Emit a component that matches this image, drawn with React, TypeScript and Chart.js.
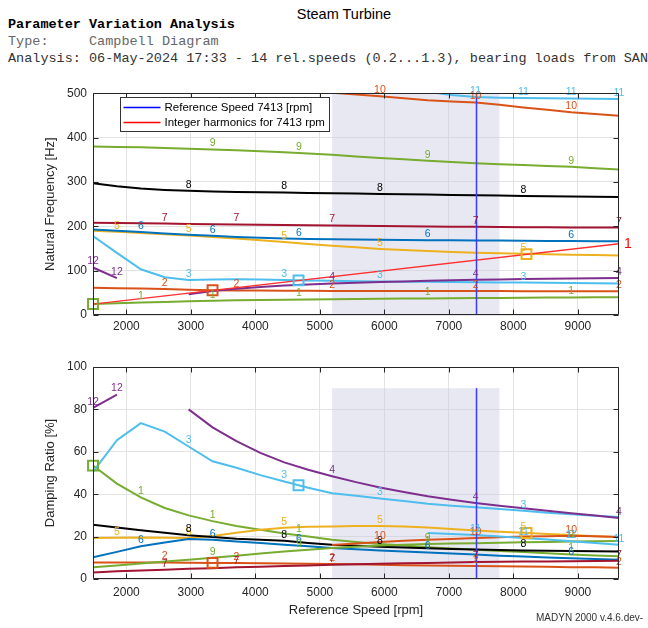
import React, { useEffect, useRef } from "react";
import { Chart, registerables } from "chart.js";

Chart.register(...registerables);

const FONT = "'Liberation Sans', Arial, Helvetica, sans-serif";
const MONO = "'Liberation Mono', 'Courier New', monospace";
const AXIS_COLOR = "#262626";
const GRID_COLOR = "#e3e3e3";
const BAND_COLOR = "rgba(200,200,226,0.42)";
const N = null;

// ---------------- data ----------------
const REF_SPEED = 7413;
const X_MIN = 1482.6;
const X_MAX = 9636.9;
const X_TICKS = [2000, 3000, 4000, 5000, 6000, 7000, 8000, 9000];
const FREQ_TICKS = [0, 100, 200, 300, 400, 500];
const DAMP_TICKS = [0, 20, 40, 60, 80, 100];
const BAND = [5189.1, 7783.7];
const FREQ_BAND_TOP = 500;
const DAMP_BAND_TOP = 90;

const SPEEDS = [1482.6, 1853.3, 2223.9, 2594.6, 2965.2, 3335.9, 3706.5, 4077.2, 4447.8, 4818.5, 5189.1, 5559.8, 5930.4, 6301.1, 6671.7, 7042.4, 7413.0, 7783.7, 8154.3, 8525.0, 8895.6, 9266.3, 9636.9];

const FREQ_1 = [25, 26.5, 28, 29.5, 31, 32, 33, 33.8, 34.5, 35, 35.5, 36, 36.5, 37, 37.4, 37.8, 38.2, 38.6, 39, 39.3, 39.6, 39.8, 40];
const FREQ_2 = [61.5, 60.5, 59.5, 58.5, 57.2, 56, 55.3, 55, 54.7, 54.5, 54.3, 54.2, 54.1, 54, 54, 54, 54, 53.9, 53.8, 53.7, 53.6, 53.5, 53.5];
const FREQ_3 = [178, 140, 103, 85, 79, 80, 80.5, 80, 79, 77.8, 77, 76.3, 75.7, 75.2, 74.8, 74.4, 74, 73.5, 73, 72.5, 72, 71.5, 71];
const FREQ_4 = [N, N, N, N, 47, 54, 59, 63, 66.5, 69, 71, 72.8, 74.3, 75.7, 77, 78.2, 79.3, 80.2, 81, 81.7, 82.3, 82.8, 83.3];
const FREQ_5 = [190, 187.5, 185, 182, 179, 176, 172.5, 168.5, 164.5, 160, 156, 152.5, 149, 146.5, 144, 142, 140.5, 139, 137.8, 136.8, 135.8, 135, 134.3];
const FREQ_6 = [193, 190, 187, 184, 181, 178.5, 176, 174, 172.5, 171.5, 170.5, 170, 169.5, 169, 168.7, 168.4, 168, 167.7, 167.4, 167, 166.7, 166.4, 166];
const FREQ_7 = [208, 207.3, 206.6, 206, 205.3, 204.7, 204, 203.4, 202.8, 202.2, 201.6, 201, 200.5, 200, 199.5, 199.1, 198.7, 198.4, 198, 197.7, 197.4, 197.2, 197];
const FREQ_8 = [297, 290, 285, 282, 280, 278.5, 277.5, 276.8, 276, 275.3, 274.5, 273.8, 273, 272.2, 271.5, 270.7, 270, 269.2, 268.5, 267.8, 267.2, 266.6, 266];
const FREQ_9 = [380, 379, 378, 376.5, 375, 373.3, 371.5, 369.3, 367, 364, 361, 357.5, 354, 351, 348, 345, 342, 340, 338, 336, 334, 331, 328];
const FREQ_10 = [N, N, N, N, N, N, N, N, N, N, 501, 497, 493, 488.5, 484, 481.5, 479, 474, 468, 462.5, 457, 453, 449];
const FREQ_11 = [N, N, N, N, N, N, N, N, N, N, N, N, N, N, 503, 496, 491.5, 490, 489, 488.5, 488, 487.5, 487];
const FREQ_12 = [107, 83, N, N, N, N, N, N, N, N, N, N, N, N, N, N, N, N, N, N, N, N, N];

const DAMP_1 = [53.5, 45, 38.5, 33.5, 30, 27.3, 25, 23.2, 21.5, 20, 18.5, 17.4, 16.5, 15.8, 15, 14.4, 13.8, 13.2, 12.7, 12.2, 11.6, 11.1, 10.7];
const DAMP_2 = [7.8, 7.8, 7.8, 7.8, 7.7, 7.6, 7.5, 7.4, 7.3, 7.2, 7.1, 6.9, 6.7, 6.5, 6.4, 6.2, 6.1, 6, 5.9, 5.8, 5.6, 5.5, 5.3];
const DAMP_3 = [50.5, 65.5, 73.5, 69.5, 62.5, 55.5, 52.5, 49, 46, 43, 40.5, 39.3, 38, 36.8, 35.5, 34.6, 33.8, 33, 32.2, 31.3, 30.5, 29.8, 29.2];
const DAMP_4 = [N, N, N, N, 80, 71.5, 65, 59.5, 55, 51.5, 48.5, 45.7, 43.2, 41, 39, 37.4, 35.9, 34.6, 33.4, 32.2, 31, 29.9, 28.8];
const DAMP_5 = [19.3, 19.5, 19.6, 19.4, 19.3, 20.3, 21.8, 23.2, 24.2, 24.6, 24.8, 25, 25, 24.8, 24.3, 23.6, 22.9, 22.3, 21.8, 21.2, 20.7, 20.2, 19.8];
const DAMP_6 = [10.2, 12.8, 15.4, 17.2, 18.9, 18.5, 17.7, 17, 16.2, 15.5, 14.6, 14, 13.5, 13, 12.5, 12, 11.5, 11, 10.6, 10.2, 9.8, 9.4, 9.1];
const DAMP_7 = [3.1, 3.6, 4, 4.4, 4.8, 5.1, 5.5, 5.8, 6.1, 6.4, 6.7, 7, 7.2, 7.4, 7.6, 7.8, 8, 8.1, 8.2, 8.3, 8.4, 8.5, 8.6];
const DAMP_8 = [25.6, 24.3, 23, 21.8, 20.6, 19.8, 19, 18.5, 18, 17, 16.2, 15.7, 15.2, 14.8, 14.5, 14.2, 13.9, 13.7, 13.5, 13.3, 13.2, 13.1, 13];
const DAMP_9 = [5.5, 6.4, 7.3, 8.2, 9.1, 10, 11, 12, 13, 13.8, 14.6, 15.2, 15.8, 16.2, 16.5, 16.7, 16.9, 17.1, 17.3, 17.5, 17.7, 17.8, 17.9];
const DAMP_10 = [N, N, N, N, N, N, N, N, N, N, 16, 16.8, 17.5, 18, 18.5, 18.9, 19.3, 19.7, 20, 20.2, 20.4, 20.2, 19.8];
const DAMP_11 = [N, N, N, N, N, N, N, N, N, N, N, N, N, N, 21.7, 21.2, 20.7, 20, 19.3, 18.6, 17.8, 17, 16.2];
const DAMP_12 = [80.7, 87, N, N, N, N, N, N, N, N, N, N, N, N, N, N, N, N, N, N, N, N, N];

const LABELS_1 = [2223.9, 3335.9, 4676, 6671.7, 8895.6];
const LABELS_2 = [2594.6, 3706.5, 5189.1, 7413, 9636.9];
const LABELS_3 = [2965.2, 4447.8, 5930.4, 8154.3];
const LABELS_4 = [5189.1, 7413, 9636.9];
const LABELS_5 = [1853.3, 2965.2, 4447.8, 5930.4, 8154.3];
const LABELS_6 = [2223.9, 3335.9, 4676, 6671.7, 8895.6];
const LABELS_7 = [2594.6, 3706.5, 5189.1, 7413, 9636.9];
const LABELS_8 = [2965.2, 4447.8, 5930.4, 8154.3];
const LABELS_9 = [3335.9, 4676, 6671.7, 8895.6];
const LABELS_10 = [5930.4, 7413, 8895.6];
const LABELS_11 = [7413, 8154.3, 8895.6, 9636.9];
const LABELS_12 = [1482.6, 1853.3];

const MODE_NAMES = ["1", "2", "3", "4", "5", "6", "7", "8", "9", "10", "11", "12"];
const MODE_COLORS = ["#77AC30", "#D95319", "#4DBEEE", "#7E2F8E", "#EDB120", "#0072BD", "#A2142F", "#000000", "#77AC30", "#D95319", "#4DBEEE", "#7E2F8E"];
const MODE_FREQ = [FREQ_1, FREQ_2, FREQ_3, FREQ_4, FREQ_5, FREQ_6, FREQ_7, FREQ_8, FREQ_9, FREQ_10, FREQ_11, FREQ_12];
const MODE_DAMP = [DAMP_1, DAMP_2, DAMP_3, DAMP_4, DAMP_5, DAMP_6, DAMP_7, DAMP_8, DAMP_9, DAMP_10, DAMP_11, DAMP_12];
const MODE_LABELS = [LABELS_1, LABELS_2, LABELS_3, LABELS_4, LABELS_5, LABELS_6, LABELS_7, LABELS_8, LABELS_9, LABELS_10, LABELS_11, LABELS_12];

const HARMONIC_SPEEDS = [1482.6, 9636.9];
const HARMONIC_FREQ = [24.7, 160.6];
const HARMONIC_NAME = "1";
const HARMONIC_COLOR = "#ff3030";
const REF_COLOR = "#3a3aff";

const CROSS_SPEEDS = [1482.6, 3335.9, 4669, 8203];
const CROSS_FREQ = [24.8, 55.8, 78, 137.2];
const CROSS_DAMP = [53.5, 7.6, 44.2, 21.7];
const CROSS_MODES = [0, 1, 2, 4];

const LEGEND_LABELS = ["Reference Speed 7413 [rpm]", "Integer harmonics for 7413 rpm"];
const LEGEND_COLORS = ["#0000ff", "#ff0000"];

// ---------------- helpers ----------------
function valueAt(vals: (number | null)[], s: number): number | null {
  for (let i = 0; i < SPEEDS.length; i++) {
    if (Math.abs(SPEEDS[i] - s) < 0.5) return vals[i];
  }
  for (let i = 0; i < SPEEDS.length - 1; i++) {
    if (s > SPEEDS[i] && s < SPEEDS[i + 1]) {
      const a = vals[i], b = vals[i + 1];
      if (a == null || b == null) return a ?? b;
      return a + ((b - a) * (s - SPEEDS[i])) / (SPEEDS[i + 1] - SPEEDS[i]);
    }
  }
  return null;
}

function makeDecor(isF: boolean) {
  return {
    id: isF ? "decorFreq" : "decorDamp",
    beforeDatasetsDraw(chart: any) {
      const { ctx, scales } = chart;
      const x = scales.x, y = scales.y;
      const x0 = x.getPixelForValue(BAND[0]);
      const x1 = x.getPixelForValue(BAND[1]);
      const yt = y.getPixelForValue(isF ? FREQ_BAND_TOP : DAMP_BAND_TOP);
      const yb = y.getPixelForValue(0);
      ctx.save();
      ctx.fillStyle = BAND_COLOR;
      ctx.fillRect(x0, yt, x1 - x0, yb - yt);
      ctx.restore();
    },
    afterDatasetsDraw(chart: any) {
      const { ctx, scales } = chart;
      const x = scales.x, y = scales.y;
      ctx.save();
      // reference speed line
      const rx = Math.round(x.getPixelForValue(REF_SPEED)) + 0.5;
      ctx.strokeStyle = REF_COLOR;
      ctx.lineWidth = 1.5;
      ctx.beginPath();
      ctx.moveTo(rx, y.getPixelForValue(isF ? FREQ_BAND_TOP : DAMP_BAND_TOP));
      ctx.lineTo(rx, y.getPixelForValue(0));
      ctx.stroke();
      // mode labels
      ctx.font = "10.5px " + FONT;
      ctx.textAlign = "center";
      ctx.textBaseline = "middle";
      MODE_NAMES.forEach((name, m) => {
        const vals = isF ? MODE_FREQ[m] : MODE_DAMP[m];
        ctx.fillStyle = MODE_COLORS[m];
        MODE_LABELS[m].forEach((s) => {
          const v = valueAt(vals, s);
          if (v == null) return;
          ctx.fillText(name, x.getPixelForValue(s), y.getPixelForValue(v) - 6);
        });
      });
      if (isF) {
        ctx.font = "14px " + FONT;
        ctx.fillStyle = "#ff0000";
        ctx.textAlign = "left";
        const n = HARMONIC_SPEEDS.length - 1;
        ctx.fillText(HARMONIC_NAME, x.getPixelForValue(HARMONIC_SPEEDS[n]) + 5, y.getPixelForValue(HARMONIC_FREQ[n]));
      }
      ctx.restore();
    },
    afterDraw(chart: any) {
      const { ctx, chartArea: ca, scales } = chart;
      const x = scales.x, y = scales.y;
      const L = Math.round(ca.left) + 0.5, R = Math.round(ca.right) - 0.5;
      const T = Math.round(ca.top) + 0.5, B = Math.round(ca.bottom) - 0.5;
      ctx.save();
      ctx.strokeStyle = AXIS_COLOR;
      ctx.lineWidth = 1;
      ctx.beginPath();
      ctx.rect(L, T, R - L, B - T);
      X_TICKS.forEach((v) => {
        const px = Math.round(x.getPixelForValue(v)) + 0.5;
        ctx.moveTo(px, B); ctx.lineTo(px, B - 5);
        ctx.moveTo(px, T); ctx.lineTo(px, T + 5);
      });
      (isF ? FREQ_TICKS : DAMP_TICKS).forEach((v) => {
        const py = Math.round(y.getPixelForValue(v)) + 0.5;
        ctx.moveTo(L, py); ctx.lineTo(L + 5, py);
        ctx.moveTo(R, py); ctx.lineTo(R - 5, py);
      });
      ctx.stroke();
      if (isF) {
        const lx = Math.round(ca.left + 27) + 0.5;
        const ly = Math.round(ca.top + 3.5) + 0.5;
        const lw = 209, lh = 34;
        ctx.fillStyle = "#ffffff";
        ctx.fillRect(lx, ly, lw, lh);
        ctx.strokeStyle = "#333333";
        ctx.strokeRect(lx, ly, lw, lh);
        ctx.font = "11.5px " + FONT;
        ctx.textAlign = "left";
        ctx.textBaseline = "middle";
        LEGEND_LABELS.forEach((t, i) => {
          const yy = ly + 10 + i * 15;
          ctx.strokeStyle = LEGEND_COLORS[i];
          ctx.lineWidth = 1.5;
          ctx.beginPath();
          ctx.moveTo(lx + 3, yy);
          ctx.lineTo(lx + 40, yy);
          ctx.stroke();
          ctx.fillStyle = "#000000";
          ctx.fillText(t, lx + 44, yy);
        });
      }
      ctx.restore();
    },
  };
}

function makeConfig(isF: boolean): any {
  const modeSets = MODE_NAMES.map((name, m) => ({
    type: "line",
    label: "Mode " + name,
    data: SPEEDS.map((s, i) => ({ x: s, y: (isF ? MODE_FREQ[m] : MODE_DAMP[m])[i] })),
    borderColor: MODE_COLORS[m],
    borderWidth: 2,
    pointRadius: 0,
    tension: 0,
    spanGaps: false,
    fill: false,
  })).reverse();
  const squares = {
    type: "line",
    label: "crossings",
    data: CROSS_SPEEDS.map((s, i) => ({ x: s, y: isF ? CROSS_FREQ[i] : CROSS_DAMP[i] })),
    showLine: false,
    pointStyle: "rect",
    pointRadius: 7,
    pointBorderWidth: 2,
    pointBorderColor: CROSS_MODES.map((m) => MODE_COLORS[m]),
    pointBackgroundColor: "rgba(0,0,0,0)",
    clip: false,
  };
  const harmonic = {
    type: "line",
    label: "harmonic",
    data: HARMONIC_SPEEDS.map((s, i) => ({ x: s, y: HARMONIC_FREQ[i] })),
    borderColor: HARMONIC_COLOR,
    borderWidth: 1.3,
    pointRadius: 0,
  };
  const datasets: any[] = isF ? [squares, harmonic, ...modeSets] : [squares, ...modeSets];
  const yTicks = isF ? FREQ_TICKS : DAMP_TICKS;
  const tickFont = { size: 12, family: FONT };
  return {
    type: "line",
    data: { datasets },
    options: {
      responsive: false,
      maintainAspectRatio: false,
      animation: false,
      events: [],
      layout: { padding: { top: isF ? 13 : 17, right: 29, left: 0, bottom: 0 } },
      plugins: { legend: { display: false }, tooltip: { enabled: false }, title: { display: false } },
      scales: {
        x: {
          type: "linear",
          min: X_MIN,
          max: X_MAX,
          afterBuildTicks: (s: any) => { s.ticks = X_TICKS.map((v) => ({ value: v })); },
          afterFit: (s: any) => { s.height = isF ? 27 : 49; },
          grid: { color: GRID_COLOR, drawTicks: false, lineWidth: 1 },
          border: { display: false },
          ticks: { padding: isF ? 4 : 6, color: AXIS_COLOR, font: tickFont, maxRotation: 0, autoSkip: false, callback: (v: any) => String(v) },
          title: isF
            ? { display: false }
            : { display: true, text: "Reference Speed [rpm]", color: AXIS_COLOR, font: { size: 13, family: FONT }, padding: { top: 0, bottom: 10 } },
        },
        y: {
          type: "linear",
          min: 0,
          max: isF ? 500 : 100,
          afterBuildTicks: (s: any) => { s.ticks = yTicks.map((v) => ({ value: v })); },
          afterFit: (s: any) => { s.width = 93; },
          grid: { color: GRID_COLOR, drawTicks: false, lineWidth: 1 },
          border: { display: false },
          ticks: { padding: 6, color: AXIS_COLOR, font: tickFont, autoSkip: false, callback: (v: any) => String(v) },
          title: {
            display: true,
            text: isF ? "Natural Frequency [Hz]" : "Damping Ratio [%]",
            color: AXIS_COLOR,
            font: { size: 13, family: FONT },
            padding: { top: 43, bottom: 0 },
          },
        },
      },
    },
    plugins: [makeDecor(isF)],
  };
}

function ChartCanvas({ isF, top, height }: { isF: boolean; top: number; height: number }) {
  const ref = useRef<HTMLCanvasElement>(null);
  useEffect(() => {
    const chart = new Chart(ref.current as HTMLCanvasElement, makeConfig(isF));
    return () => chart.destroy();
  }, [isF]);
  return (
    <canvas
      ref={ref}
      width={648}
      height={height}
      style={{ position: "absolute", left: 0, top, width: 648, height }}
    />
  );
}

export default function App() {
  const mono: React.CSSProperties = {
    position: "absolute",
    left: 8,
    fontFamily: MONO,
    fontSize: 13.5,
    lineHeight: "17px",
    whiteSpace: "pre",
  };
  return (
    <div style={{ position: "absolute", left: 0, top: 0, width: 648, height: 628, overflow: "hidden", background: "#fff" }}>
      <div style={{ position: "absolute", left: 244, width: 200, top: 5, textAlign: "center", fontFamily: FONT, fontSize: 14.5, color: "#000", lineHeight: "18px" }}>
        Steam Turbine
      </div>
      <div style={{ ...mono, top: 15.5, fontWeight: "bold", color: "#000" }}>Parameter Variation Analysis</div>
      <div style={{ ...mono, top: 32.5, color: "#666" }}>{"Type:     Campbell Diagram"}</div>
      <div style={{ ...mono, top: 49.5, color: "#333" }}>
        {"Analysis: 06-May-2024 17:33 - 14 rel.speeds (0.2...1.3), bearing loads from SAN"}
      </div>
      <ChartCanvas isF={true} top={80} height={262} />
      <ChartCanvas isF={false} top={350} height={278} />
      <div style={{ position: "absolute", left: 536, top: 611, fontFamily: FONT, fontSize: 10, color: "#333", whiteSpace: "pre", lineHeight: "14px" }}>
        MADYN 2000 v.4.6.dev-
      </div>
    </div>
  );
}
